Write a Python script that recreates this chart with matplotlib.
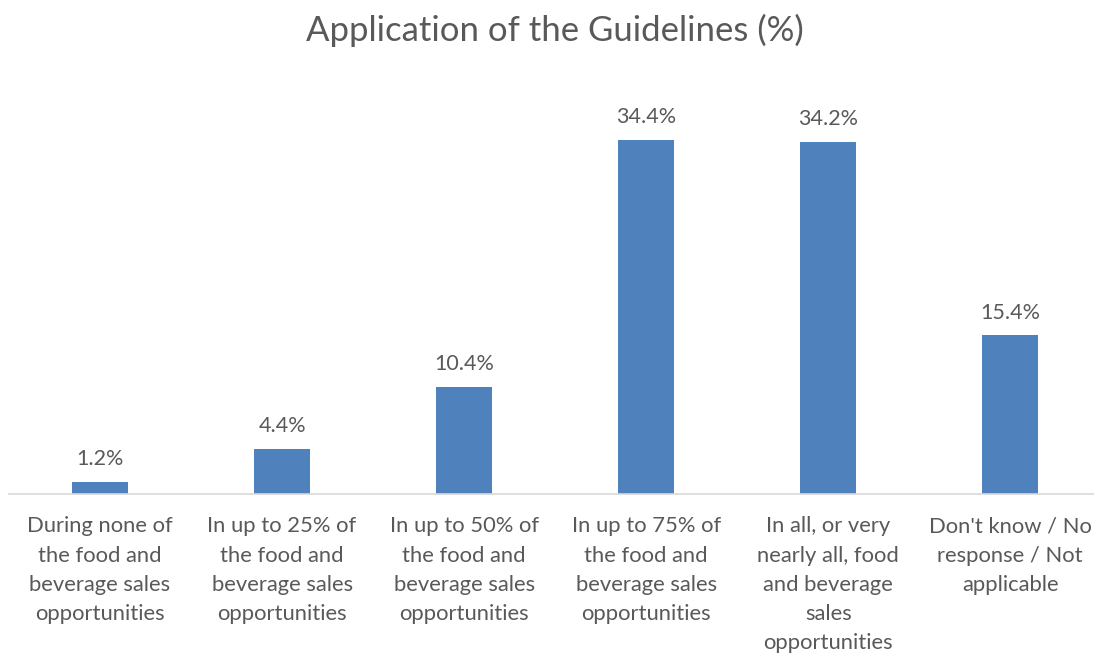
import matplotlib.pyplot as plt

categories = [
    "During none of\nthe food and\nbeverage sales\nopportunities",
    "In up to 25% of\nthe food and\nbeverage sales\nopportunities",
    "In up to 50% of\nthe food and\nbeverage sales\nopportunities",
    "In up to 75% of\nthe food and\nbeverage sales\nopportunities",
    "In all, or very\nnearly all, food\nand beverage\nsales\nopportunities",
    "Don't know / No\nresponse / Not\napplicable",
]
values = [1.2, 4.4, 10.4, 34.4, 34.2, 15.4]

plt.rcParams['font.family'] = ['Lato', 'DejaVu Sans']
grey = '#595959'

fig = plt.figure(figsize=(10.94, 6.53), dpi=100)
ax = fig.add_axes([9 / 1094, 159 / 653, 1085 / 1094, 412 / 653])

x = range(len(values))
bars = ax.bar(x, values, width=0.31, color='#4F81BD')
ax.bar_label(bars, [f"{v:.1f}%" for v in values], padding=9, fontsize=15.5, color=grey)

ax.set_xlim(-0.5, 5.46)
ax.set_ylim(0, 40)
ax.set_xticks(list(x))
ax.set_xticklabels(categories, fontsize=15.8, color=grey, linespacing=1.58)
ax.tick_params(axis='x', length=0, pad=16)
ax.set_yticks([])
for side in ['left', 'right', 'top']:
    ax.spines[side].set_visible(False)
ax.spines['bottom'].set_color('#D9D9D9')
ax.spines['bottom'].set_linewidth(1.2)

fig.text(0.507, 0.953, "Application of the Guidelines (%)", ha='center', va='center',
         fontsize=25, color=grey)

fig.savefig('out.png', dpi=100)
